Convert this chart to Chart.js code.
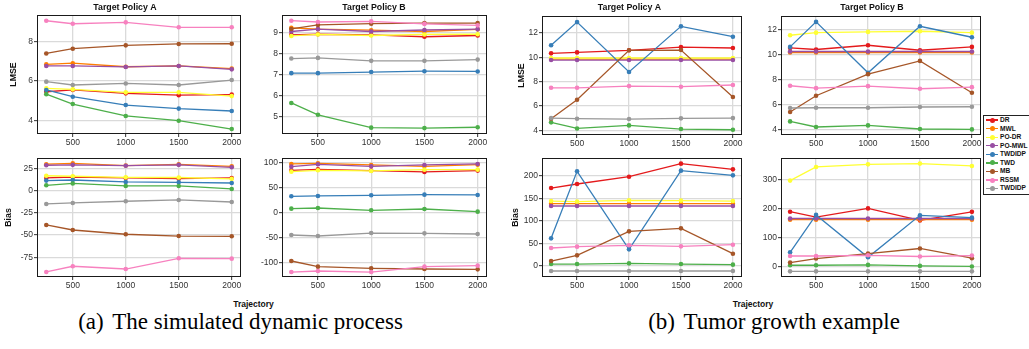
<!DOCTYPE html>
<html>
<head>
<meta charset="utf-8">
<script src="https://cdn.jsdelivr.net/npm/chart.js@4/dist/chart.umd.min.js"></script>
<style>
  html, body { margin: 0; padding: 0; background: #fff; }
  body { width: 1029px; height: 349px; overflow: hidden; position: relative; font-family: 'Liberation Sans', Arial, sans-serif; }
  canvas { position: absolute; }
  .axlab { position: absolute; font-weight: bold; font-size: 8.5px; line-height: 1; color: #111; white-space: nowrap; text-align: center; width: 100px; }
  .cap { position: absolute; font-family: 'Liberation Serif', 'Times New Roman', serif; font-size: 23px; line-height: 1; color: #000; white-space: nowrap; text-align: center; width: 400px; }
  .cap .gap { display: inline-block; width: 0.14em; }
  #legend { position: absolute; left: 983px; top: 115px; width: 60px; height: 80px; border: 1px solid #222; background: #fff; box-sizing: border-box; }
  .li { position: absolute; left: 0; height: 8px; width: 60px; }
  .li .ln { position: absolute; left: 2px; top: 3.4px; width: 12px; height: 1.4px; }
  .li .pt { position: absolute; left: 5.5px; top: 1.6px; width: 5px; height: 5px; border-radius: 50%; }
  .li .tx { position: absolute; left: 16px; top: 0; font-size: 6.6px; font-weight: bold; line-height: 8px; color: #111; }
</style>
</head>
<body>
<div class="axlab" style="left:203.5px; top:299.5px;">Trajectory</div>
<div class="axlab" style="left:703px; top:299.5px;">Trajectory</div>
<div class="cap" style="left:40.5px; top:309.5px;">(a)<span class="gap"></span> The simulated dynamic process</div>
<div class="cap" style="left:574px; top:309.5px;">(b)<span class="gap"></span> Tumor growth example</div>
<div id="legend"></div>
<script>
// ---------------- data ----------------
const trajectory = [250, 500, 1000, 1500, 2000];
const trajectoryTicks = [500, 1000, 1500, 2000];
const methods = ['DR', 'MWL', 'PO-DR', 'PO-MWL', 'TWDIDP', 'TWD', 'MB', 'RSSM', 'TWDIDP'];

// (a) simulated dynamic process — LMSE, target policy A (rows follow `methods`)
const simLmseA = [
  [5.46, 5.55, 5.38, 5.29, 5.32],
  [6.84, 6.90, 6.72, 6.76, 6.63],
  [5.63, 5.58, 5.43, 5.43, 5.24],
  [6.76, 6.76, 6.71, 6.76, 6.59],
  [5.55, 5.21, 4.79, 4.61, 4.49],
  [5.34, 4.84, 4.24, 4.00, 3.58],
  [7.39, 7.63, 7.80, 7.87, 7.88],
  [9.04, 8.89, 8.96, 8.71, 8.71],
  [5.97, 5.80, 5.88, 5.80, 6.05]
];
// (a) LMSE, target policy B
const simLmseB = [
  [8.89, 8.92, 8.89, 8.80, 8.86],
  [9.22, 9.16, 9.11, 9.05, 9.15],
  [8.84, 8.91, 8.86, 8.91, 8.92],
  [9.05, 9.16, 9.05, 9.12, 9.16],
  [7.08, 7.08, 7.13, 7.17, 7.16],
  [5.67, 5.11, 4.50, 4.48, 4.52],
  [9.17, 9.36, 9.42, 9.45, 9.45],
  [9.56, 9.50, 9.53, 9.41, 9.34],
  [7.77, 7.80, 7.66, 7.66, 7.72]
];
// (a) Bias, target policy A
const simBiasA = [
  [14.5, 15.6, 14.5, 13.7, 14.5],
  [30.0, 31.0, 28.5, 29.8, 27.6],
  [17.0, 16.4, 15.2, 15.0, 13.5],
  [28.8, 29.3, 28.3, 29.3, 26.5],
  [11.5, 12.2, 10.0, 9.6, 8.8],
  [6.2, 8.3, 5.5, 5.5, 2.1],
  [-38.5, -44.2, -49.0, -51.0, -51.3],
  [-91.5, -85.1, -88.2, -76.1, -76.5],
  [-14.8, -13.7, -11.8, -10.3, -12.6]
];
// (a) Bias, target policy B
const simBiasB = [
  [85.2, 87.2, 84.6, 81.9, 84.6],
  [98.0, 99.3, 96.0, 93.3, 96.6],
  [82.5, 85.2, 83.9, 86.6, 86.6],
  [92.6, 97.3, 93.3, 96.0, 98.0],
  [32.9, 33.6, 34.9, 36.2, 35.6],
  [8.1, 9.4, 4.7, 7.4, 2.0],
  [-97.3, -108.7, -112.0, -113.4, -114.1],
  [-119.5, -117.4, -119.5, -108.7, -106.7],
  [-45.0, -47.0, -41.0, -41.6, -43.0]
];
// (b) tumor growth — LMSE, target policy A
const tumLmseA = [
  [10.33, 10.41, 10.58, 10.85, 10.77],
  [9.86, 9.86, 9.86, 9.86, 9.86],
  [9.95, 9.95, 9.95, 9.95, 9.95],
  [9.78, 9.78, 9.78, 9.78, 9.78],
  [10.99, 12.90, 8.80, 12.55, 11.70],
  [4.66, 4.16, 4.41, 4.11, 4.05],
  [4.96, 6.52, 10.58, 10.60, 6.74],
  [7.50, 7.50, 7.64, 7.59, 7.73],
  [5.01, 4.96, 4.93, 4.99, 5.01]
];
// (b) LMSE, target policy B
const tumLmseB = [
  [10.51, 10.38, 10.72, 10.32, 10.59],
  [10.14, 10.14, 10.14, 10.14, 10.14],
  [11.52, 11.73, 11.79, 11.84, 11.73],
  [10.22, 10.22, 10.22, 10.22, 10.22],
  [10.59, 12.59, 8.52, 12.24, 11.36],
  [4.63, 4.18, 4.31, 4.02, 3.99],
  [5.38, 6.68, 8.41, 9.47, 6.92],
  [7.48, 7.29, 7.45, 7.24, 7.37],
  [5.70, 5.72, 5.72, 5.78, 5.80]
];
// (b) Bias, target policy A
const tumBiasA = [
  [173.3, 182.2, 198.5, 227.4, 214.8],
  [138.5, 138.5, 138.5, 138.5, 138.5],
  [144.4, 143.0, 146.0, 145.2, 144.4],
  [133.3, 133.3, 133.3, 133.3, 133.3],
  [61.5, 210.4, 37.0, 211.9, 201.5],
  [4.4, 4.4, 5.9, 4.4, 3.0],
  [11.0, 23.7, 77.0, 83.7, 27.4],
  [40.0, 43.0, 46.0, 43.7, 47.4],
  [-11.1, -11.1, -11.1, -11.1, -11.1]
];
// (b) Bias, target policy B
const tumBiasB = [
  [189.6, 171.1, 201.0, 159.5, 189.0],
  [162.0, 162.0, 162.0, 162.0, 162.0],
  [297.0, 344.0, 353.0, 355.6, 347.5],
  [166.0, 166.0, 166.0, 166.0, 166.0],
  [49.4, 178.5, 32.0, 177.0, 169.0],
  [4.6, 4.6, 5.8, 2.3, 0.5],
  [13.8, 27.7, 45.0, 62.5, 29.0],
  [36.6, 36.6, 39.0, 34.8, 38.0],
  [-16.5, -16.5, -16.5, -16.5, -16.5]
];

// axis tick labels and limits
const simLmseTicksA = [4, 6, 8];            const simLmseRangeA = [3.33, 9.33];
const simLmseTicksB = [5, 6, 7, 8, 9];      const simLmseRangeB = [4.20, 9.83];
const simBiasTicksA = [-75, -50, -25, 0, 25];   const simBiasRangeA = [-97.2, 37.0];
const simBiasTicksB = [-100, -50, 0, 50, 100];  const simBiasRangeB = [-129.5, 110.0];
const tumLmseTicksA = [4, 6, 8, 10, 12];    const tumLmseRangeA = [3.62, 13.40];
const tumLmseTicksB = [4, 6, 8, 10, 12];    const tumLmseRangeB = [3.54, 13.06];
const tumBiasTicksA = [0, 50, 100, 150, 200];   const tumBiasRangeA = [-24.4, 240.0];
const tumBiasTicksB = [0, 100, 200, 300];       const tumBiasRangeB = [-36.0, 375.0];
const trajectoryRange = [162.5, 2087.5];

// ---------------- style ----------------
const colors = ['#E41A1C', '#FF7F00', '#FFFF33', '#984EA3', '#377EB8', '#4DAF4A', '#A65628', '#F781BF', '#999999'];
const FONT = "'Liberation Sans', Arial, sans-serif";
const GRID = '#dadada';
const TICKC = '#333333';

const boxPlugin = {
  id: 'panelBox',
  afterDraw(chart) {
    const { ctx, chartArea: a } = chart;
    ctx.save();
    ctx.strokeStyle = '#1a1a1a';
    ctx.lineWidth = 1;
    ctx.strokeRect(Math.round(a.left) + 0.5, Math.round(a.top) + 0.5, Math.round(a.width) - 1, Math.round(a.height) - 1);
    ctx.restore();
  }
};

const panels = [
  { series: simLmseA, ticks: simLmseTicksA, range: simLmseRangeA, title: 'Target Policy A', yTitle: 'LMSE', yTitlePad: 8.7,
    cl: 0, cw: 250, plotL: 37, plotR: 241, ct: 0, plotT: 15, plotB: 134 },
  { series: simLmseB, ticks: simLmseTicksB, range: simLmseRangeB, title: 'Target Policy B', yTitle: '', yTitlePad: 0,
    cl: 252, cw: 244, plotL: 282, plotR: 487, ct: 0, plotT: 15, plotB: 134 },
  { series: simBiasA, ticks: simBiasTicksA, range: simBiasRangeA, title: '', yTitle: 'Bias', yTitlePad: 3.4,
    cl: 0, cw: 250, plotL: 37, plotR: 241, ct: 150, plotT: 158, plotB: 277 },
  { series: simBiasB, ticks: simBiasTicksB, range: simBiasRangeB, title: '', yTitle: '', yTitlePad: 0,
    cl: 252, cw: 244, plotL: 282, plotR: 487, ct: 150, plotT: 158, plotB: 277 },
  { series: tumLmseA, ticks: tumLmseTicksA, range: tumLmseRangeA, title: 'Target Policy A', yTitle: 'LMSE', yTitlePad: 14.4,
    cl: 502, cw: 255, plotL: 542, plotR: 742, ct: 0, plotT: 16, plotB: 135 },
  { series: tumLmseB, ticks: tumLmseTicksB, range: tumLmseRangeB, title: 'Target Policy B', yTitle: '', yTitlePad: 0,
    cl: 757, cw: 230, plotL: 781, plotR: 981, ct: 0, plotT: 16, plotB: 135 },
  { series: tumBiasA, ticks: tumBiasTicksA, range: tumBiasRangeA, title: '', yTitle: 'Bias', yTitlePad: 8.0,
    cl: 502, cw: 255, plotL: 542, plotR: 742, ct: 150, plotT: 158, plotB: 277 },
  { series: tumBiasB, ticks: tumBiasTicksB, range: tumBiasRangeB, title: '', yTitle: '', yTitlePad: 0,
    cl: 757, cw: 230, plotL: 781, plotR: 981, ct: 150, plotT: 158, plotB: 277 }
];

const X_AXIS_H = 14;
const TITLE_LH = 11;

function makePanel(p) {
  const cv = document.createElement('canvas');
  const ch = p.plotB - p.ct + X_AXIS_H;
  cv.width = p.cw; cv.height = ch;
  cv.style.left = p.cl + 'px'; cv.style.top = p.ct + 'px';
  cv.style.width = p.cw + 'px'; cv.style.height = ch + 'px';
  document.body.insertBefore(cv, document.getElementById('legend'));

  const hasTitle = !!p.title;
  const padTop = hasTitle ? 0 : (p.plotT - p.ct);
  const titleBottom = hasTitle ? (p.plotT - p.ct - TITLE_LH - 2) : 0;
  const yW = p.plotL - p.cl;
  const y2W = p.cl + p.cw - p.plotR;

  const datasets = methods.map((m, i) => ({
    label: m,
    data: trajectory.map((x, j) => ({ x: x, y: p.series[i][j] })),
    borderColor: colors[i],
    backgroundColor: colors[i],
    pointBackgroundColor: colors[i],
    pointBorderColor: colors[i],
    pointBorderWidth: 0,
    pointRadius: 2.3,
    borderWidth: 1.3,
    tension: 0,
    order: methods.length - i
  }));

  new Chart(cv, {
    type: 'line',
    data: { datasets },
    options: {
      responsive: false,
      animation: false,
      devicePixelRatio: 1,
      events: [],
      layout: { padding: { top: padTop, left: 0, right: 0, bottom: 0 } },
      plugins: {
        legend: { display: false },
        tooltip: { enabled: false },
        title: {
          display: hasTitle, text: p.title, color: '#111',
          font: { family: FONT, size: 8.8, weight: 'bold', lineHeight: TITLE_LH / 8.8 },
          padding: { top: 2, bottom: titleBottom }
        }
      },
      scales: {
        x: {
          type: 'linear', min: trajectoryRange[0], max: trajectoryRange[1],
          afterBuildTicks: s => { s.ticks = trajectoryTicks.map(v => ({ value: v })); },
          afterFit: s => { s.height = X_AXIS_H; },
          grid: { color: GRID, lineWidth: 1.3, tickColor: TICKC, tickLength: 3, tickWidth: 1 },
          border: { display: false },
          ticks: { color: TICKC, padding: 0.5, maxRotation: 0, autoSkip: false,
                   font: { family: FONT, size: 8.5 }, callback: v => String(v) }
        },
        y: {
          type: 'linear', position: 'left', min: p.range[0], max: p.range[1],
          afterBuildTicks: s => { s.ticks = p.ticks.map(v => ({ value: v })); },
          afterFit: s => { s.width = yW; },
          grid: { color: GRID, lineWidth: 1.3, tickColor: TICKC, tickLength: 3, tickWidth: 1 },
          border: { display: false },
          ticks: { color: TICKC, padding: 1, autoSkip: false,
                   font: { family: FONT, size: 8.5 }, callback: v => String(v) },
          title: {
            display: !!p.yTitle, text: p.yTitle, color: '#111',
            font: { family: FONT, size: 8.8, weight: 'bold', lineHeight: 1.2 },
            padding: { top: p.yTitlePad, bottom: 0 }
          }
        },
        y2: {
          type: 'linear', position: 'right', axis: 'y',
          afterFit: s => { s.width = y2W; },
          grid: { display: false, drawTicks: false },
          border: { display: false },
          ticks: { display: false },
          title: { display: false }
        }
      }
    },
    plugins: [boxPlugin]
  });
}

panels.forEach(makePanel);

// legend
const legend = document.getElementById('legend');
methods.forEach((m, i) => {
  const it = document.createElement('div');
  it.className = 'li';
  it.style.top = (0 + i * 8.56) + 'px';
  it.innerHTML = '<div class="ln" style="background:' + colors[i] + '"></div>' +
                 '<div class="pt" style="background:' + colors[i] + '"></div>' +
                 '<div class="tx">' + m + '</div>';
  legend.appendChild(it);
});
</script>
</body>
</html>
